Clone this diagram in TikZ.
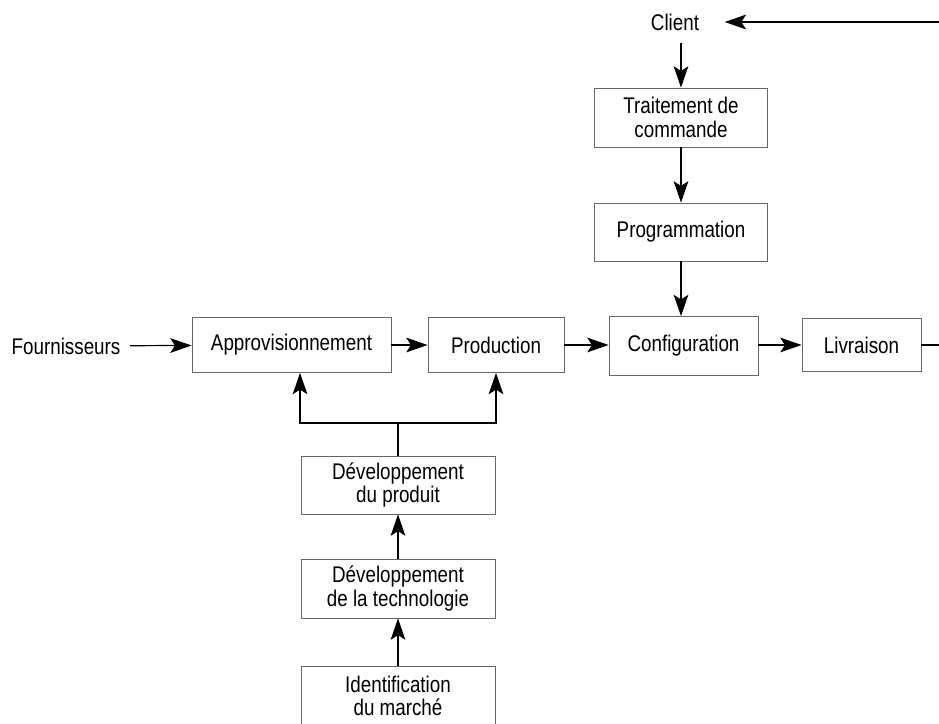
\documentclass[tikz,border=0pt]{standalone}
\usepackage{fontspec}
\setmainfont{Liberation Sans}[FakeStretch=0.83]
\usetikzlibrary{arrows.meta}

\tikzset{
	block/.style={draw=black!60, line width=0.6pt, align=center, inner sep=0pt,
		font=\fontsize{17}{17.5}\selectfont},
	label/.style={inner sep=1pt, font=\fontsize{17}{17.5}\selectfont},
	link/.style={line width=0.9pt, -{Stealth[length=16pt, width=11pt, inset=3.5pt]}},
}

\begin{document}
\begin{tikzpicture}[x=0.75pt, y=-0.75pt]
		\clip (0, 0) rectangle (939, 724);
		
		% Order side
		\node[label] (client) at (675, 22) {Client};
		\coordinate (retour) at (939, 22);
		\node[block, minimum width=129.75pt, minimum height=44.25pt] (traitement) at (681, 117.5) {Traitement de\\commande};
		\node[block, minimum width=129.75pt, minimum height=43.5pt] (programmation) at (681, 232) {Programmation};
		
		% Main flow
		\node[label] (fournisseurs) at (66, 346) {Fournisseurs};
		\node[block, minimum width=149.25pt, minimum height=41.25pt] (approv) at (291.5, 345) {Approvisionnement};
		\node[block, minimum width=102pt, minimum height=41.25pt] (production) at (496, 345) {Production};
		\node[block, minimum width=111.75pt, minimum height=44.25pt] (configuration) at (683.5, 346) {Configuration};
		\node[block, minimum width=89.25pt, minimum height=39.75pt] (livraison) at (861.5, 345) {Livraison};
		\coordinate (sortie) at (939, 345);
		
		% Development side
		\node[block, minimum width=145.5pt, minimum height=43.5pt] (devproduit) at (398, 485) {Développement\\du produit};
		\node[block, minimum width=145.5pt, minimum height=44.25pt] (devtechno) at (398, 588.5) {Développement\\de la technologie};
		\node[block, minimum width=145.5pt, minimum height=45pt] (marche) at (398, 696) {Identification\\du marché};
		\coordinate (split) at (398, 423);
		
		% Signals
		\draw[link, shorten >=18pt] (retour) -- (client);
		\draw[link, shorten <=8pt] (client.south -| traitement.north) -- (traitement);
		\draw[link] (traitement) -- (programmation);
		\draw[link] (programmation) -- (configuration.north -| programmation.south);
		
		\draw[link, shorten <=6pt] (fournisseurs) -- (approv);
		\draw[link] (approv) -- (production);
		\draw[link] (production) -- (production.east -| configuration.west);
		\draw[link] (configuration.east |- livraison.west) -- (livraison);
		\draw[line width=0.9pt] (livraison) -- (sortie);
		
		\draw[line width=0.9pt] (devproduit) -- (split);
		\draw[link] (split) -| ([xshift=6.4pt]approv.south);
		\draw[link] (split) -| (production.south);
		\draw[link] (devtechno) -- (devproduit);
		\draw[link] (marche) -- (devtechno);
	\end{tikzpicture}
\end{document}
